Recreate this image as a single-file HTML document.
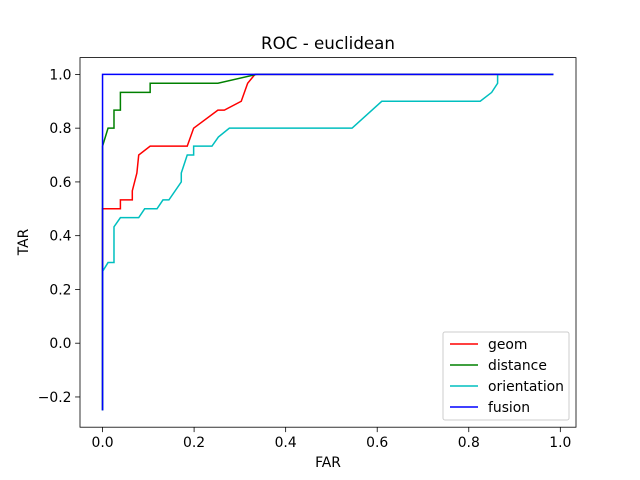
<!DOCTYPE html>
<html><head><meta charset="utf-8"><style>
body{margin:0;background:#fff;}
svg{display:block;font-family:"DejaVu Sans","Liberation Sans",sans-serif;}
</style></head><body>
<svg id="chart" width="640" height="480">
<rect width="640" height="480" fill="#fff"/>
<g id="marks"></g>
<rect x="80" y="57.6" width="496" height="369.6" fill="none" stroke="#000" stroke-width="0.8"/>
<g id="axes"></g>
<text x="328" y="49" text-anchor="middle" font-size="16.7">ROC - euclidean</text>
<text x="328" y="467" text-anchor="middle" font-size="13.9">FAR</text>
<text transform="translate(28,242) rotate(-90)" text-anchor="middle" font-size="13.9">TAR</text>
<g id="legend"></g>
</svg>
<script>
const seriesNames = ["geom","distance","orientation","fusion"];
const seriesColors = ["#ff0000","#008000","#00bfbf","#0000ff"];
const geomX = [0,0,0.039,0.039,0.065,0.065,0.075,0.079,0.104,0.185,0.199,0.252,0.266,0.303,0.317,0.333,0.985];
const geomY = [-0.25,0.50,0.50,0.533,0.533,0.567,0.633,0.70,0.733,0.733,0.80,0.867,0.867,0.90,0.967,1.0,1.0];
const distX = [0,0,0.012,0.025,0.025,0.039,0.039,0.104,0.104,0.252,0.336,0.985];
const distY = [-0.25,0.733,0.80,0.80,0.867,0.867,0.933,0.933,0.967,0.967,1.0,1.0];
const oriX = [0,0,0.012,0.025,0.025,0.039,0.079,0.092,0.119,0.132,0.145,0.172,0.172,0.185,0.199,0.199,0.239,0.253,0.277,0.545,0.610,0.825,0.850,0.863,0.863,0.985];
const oriY = [-0.25,0.267,0.30,0.30,0.433,0.467,0.467,0.50,0.50,0.533,0.533,0.60,0.633,0.70,0.70,0.733,0.733,0.767,0.80,0.80,0.90,0.90,0.933,0.967,1.0,1.0];
const fusX = [0,0,0.985];
const fusY = [-0.25,1.0,1.0];
const xTicks = [0,0.2,0.4,0.6,0.8,1.0];
const xTickLabels = ["0.0","0.2","0.4","0.6","0.8","1.0"];
const yTicks = [-0.2,0,0.2,0.4,0.6,0.8,1.0];
const yTickLabels = ["\u22120.2","0.0","0.2","0.4","0.6","0.8","1.0"];

const xMin=-0.04925, xMax=1.03425, yMin=-0.3125, yMax=1.0625;
const L=80,R=576,T=57.6,B=427.2;
const sx=v=>L+(v-xMin)/(xMax-xMin)*(R-L);
const sy=v=>B-(v-yMin)/(yMax-yMin)*(B-T);
const NS="http://www.w3.org/2000/svg";
const marks=document.getElementById('marks');
const axes=document.getElementById('axes');
const legend=document.getElementById('legend');
const allX=[geomX,distX,oriX,fusX], allY=[geomY,distY,oriY,fusY];
allX.forEach((xs,i)=>{
  const p=document.createElementNS(NS,'polyline');
  p.setAttribute('points',xs.map((x,j)=>sx(x)+','+sy(allY[i][j])).join(' '));
  p.setAttribute('fill','none');
  p.setAttribute('stroke',seriesColors[i]);
  p.setAttribute('stroke-width','1.5');
  
  
  marks.appendChild(p);
});
xTicks.forEach((v,i)=>{
  const x=sx(v);
  const l=document.createElementNS(NS,'line');
  l.setAttribute('x1',x);l.setAttribute('x2',x);l.setAttribute('y1',B);l.setAttribute('y2',B+4.9);
  l.setAttribute('stroke','#000');l.setAttribute('stroke-width','0.8');
  
  
  axes.appendChild(l);
  const t=document.createElementNS(NS,'text');
  t.setAttribute('x',x);t.setAttribute('y',B+20);t.setAttribute('text-anchor','middle');t.setAttribute('font-size','13.9');
  t.textContent=xTickLabels[i];
  
  
  axes.appendChild(t);
});
yTicks.forEach((v,i)=>{
  const y=sy(v);
  const l=document.createElementNS(NS,'line');
  l.setAttribute('x1',L-4.9);l.setAttribute('x2',L);l.setAttribute('y1',y);l.setAttribute('y2',y);
  l.setAttribute('stroke','#000');l.setAttribute('stroke-width','0.8');
  
  
  axes.appendChild(l);
  const t=document.createElementNS(NS,'text');
  t.setAttribute('x',L-8.5);t.setAttribute('y',y+5);t.setAttribute('text-anchor','end');t.setAttribute('font-size','13.9');
  t.textContent=yTickLabels[i];
  
  
  axes.appendChild(t);
});
const box=document.createElementNS(NS,'rect');
box.setAttribute('x',443);box.setAttribute('y',332);box.setAttribute('width',126);box.setAttribute('height',88);
box.setAttribute('rx',2);box.setAttribute('fill','#fff');box.setAttribute('fill-opacity','0.8');
box.setAttribute('stroke','#ccc');box.setAttribute('stroke-width','1');


legend.appendChild(box);
seriesNames.forEach((n,i)=>{
  const y=344+i*21;
  const l=document.createElementNS(NS,'line');
  l.setAttribute('x1',450);l.setAttribute('x2',478);l.setAttribute('y1',y);l.setAttribute('y2',y);
  l.setAttribute('stroke',seriesColors[i]);l.setAttribute('stroke-width','1.5');
  
  
  legend.appendChild(l);
  const t=document.createElementNS(NS,'text');
  t.setAttribute('x',488);t.setAttribute('y',y+5);t.setAttribute('font-size','13.9');
  t.textContent=n;
  
  
  legend.appendChild(t);
});
</script>
</body></html>
